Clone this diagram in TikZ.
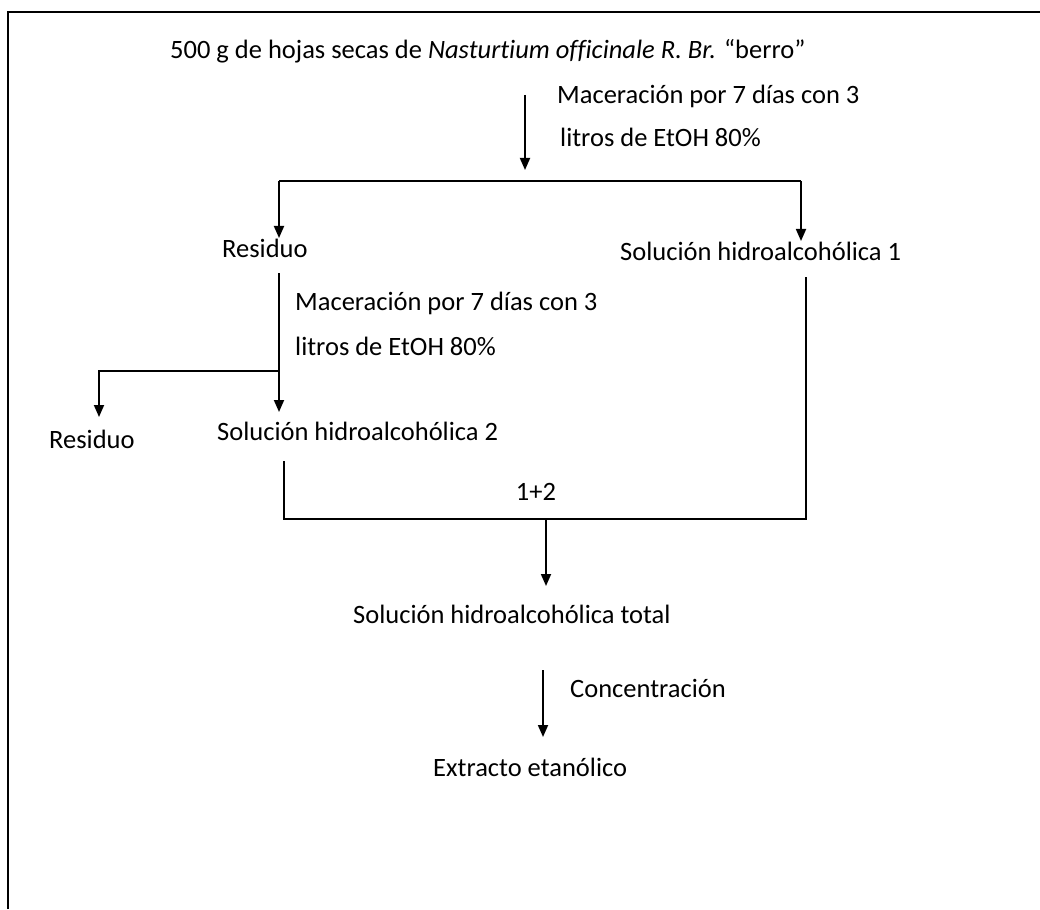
\documentclass[tikz,border=0pt]{standalone}
\usepackage{fontspec}
\setmainfont{Carlito}[Ligatures=NoCommon]
\usetikzlibrary{arrows.meta}

\begin{document}
\begin{tikzpicture}[x=1pt, y=-1pt,
    t/.style={anchor=base west, inner sep=0, font=\fontsize{26.5}{32}\selectfont},
    ln/.style={line width=1.8pt},
    ar/.style={ln, -{Triangle[length=12pt, width=10pt]}}]
  \useasboundingbox (0,0) rectangle (1040,909);
  \draw[ln] (8,909) -- (8,12) -- (1040,12);

  \node[t] (top) at (170,59) {500 g de hojas secas de \textit{Nasturtium officinale R. Br.} “berro”};
  \node[t] (mac1a) at (557,104) {Maceración por 7 días con 3};
  \node[t] (mac1b) at (560,147) {litros de EtOH 80\%};
  \node[t] (res1) at (222,257) {Residuo};
  \node[t] (sol1) at (620,260) {Solución hidroalcohólica 1};
  \node[t] (mac2a) at (295,310) {Maceración por 7 días con 3};
  \node[t] (mac2b) at (295,355) {litros de EtOH 80\%};
  \node[t] (res2) at (49,448) {Residuo};
  \node[t] (sol2) at (217,440) {Solución hidroalcohólica 2};
  \node[t, anchor=base] (mix) at (536,500) {1+2};
  \node[t] (tot) at (353,623) {Solución hidroalcohólica total};
  \node[t] (conc) at (570,697) {Concentración};
  \node[t] (ext) at (433,776) {Extracto etanólico};

  \coordinate (a0) at (525,95);
  \coordinate (a1) at (525,170);
  \coordinate (sl) at (279,181);
  \coordinate (sr) at (801,181);
  \coordinate (r1t) at (279,238);
  \coordinate (s1t) at (801,241);
  \coordinate (st0) at (279,273);
  \coordinate (st1) at (279,412);
  \coordinate (br) at (279,371);
  \coordinate (brl) at (99,371);
  \coordinate (r2t) at (99,417);
  \coordinate (b0) at (284,461);
  \coordinate (b1) at (284,519);
  \coordinate (b2) at (806,519);
  \coordinate (b3) at (806,277);
  \coordinate (m0) at (546,519);
  \coordinate (m1) at (546,586);
  \coordinate (c0) at (543,670);
  \coordinate (c1) at (543,737);

  \draw[ar] (a0) -- (a1);
  \draw[ln] (sl) -- (sr);
  \draw[ar] (sl) -- (r1t);
  \draw[ar] (sr) -- (s1t);
  \draw[ar] (st0) -- (st1);
  \draw[ar] (br) -- (brl) -- (r2t);
  \draw[ln] (b0) -- (b1) -- (b2) -- (b3);
  \draw[ar] (m0) -- (m1);
  \draw[ar] (c0) -- (c1);
\end{tikzpicture}
\end{document}
